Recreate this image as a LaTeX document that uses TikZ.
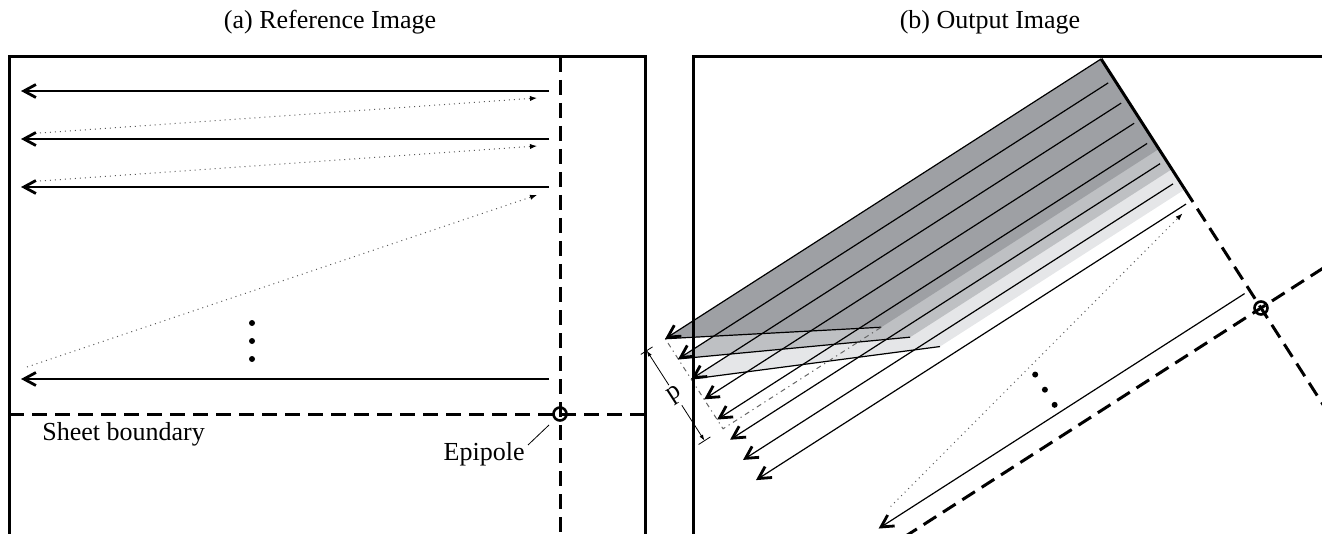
\documentclass[tikz,border=0pt]{standalone}
\usepackage{fontspec}
\setmainfont{Liberation Serif}
\usetikzlibrary{arrows.meta}
\definecolor{sheetdark}{RGB}{158,160,164}
\definecolor{sheetmid}{RGB}{190,192,195}
\definecolor{sheetlight}{RGB}{229,230,232}
\begin{document}
\begin{tikzpicture}[x=0.5pt,y=-0.5pt,
  frame/.style={line width=1.5pt},
  bound/.style={line width=1.5pt,dash pattern=on 7.5pt off 4pt},
  ray/.style={line width=0.6pt,-{Straight Barb[length=6pt,width=6.5pt,line width=1.4pt]}},
  back/.style={gray!70!black,line width=0.5pt,dotted,-{Latex[length=3.5pt,width=2.6pt,color=black]}},
  lbl/.style={font=\fontsize{13}{15}\selectfont,inner sep=0pt},
  ttl/.style={font=\fontsize{13}{15}\selectfont,inner sep=0pt,anchor=base},
  dotm/.style={circle,fill=black,inner sep=0pt,minimum size=3pt},
  epi/.style={circle,draw,line width=1.3pt,inner sep=0pt,minimum size=6.5pt},
  edge/.style={line width=0.6pt},
  proj/.style={gray!80!black,line width=0.5pt,dash pattern=on 0.6pt off 2pt on 2.5pt off 2pt},
  dim/.style={line width=0.4pt,{Latex[length=3pt,width=2pt]}-{Latex[length=3pt,width=2pt]}},
]
\useasboundingbox (0,0) rectangle (1322,534);

% titles
\node[ttl] (ta) at (330,29) {(a) Reference Image};
\node[ttl] (tb) at (990,29) {(b) Output Image};

% ---------------- panel (a) ----------------
\draw[bound] (560,57) -- (560,534);
\draw[bound] (9,414) -- (645,414);
\node[epi] (epA) at (560,414) {};

\foreach \i/\y in {1/91,2/139,3/187,4/379}{
  \coordinate (as\i) at (549,\y);
  \coordinate (at\i) at (21,\y);
  \draw[ray] (as\i) -- (at\i);
}
\coordinate (bl1) at (40,133);  \coordinate (br1) at (537,98);
\coordinate (bl2) at (40,181);  \coordinate (br2) at (537,146);
\coordinate (bl3) at (27,367);  \coordinate (br3) at (537,195);
\foreach \i in {1,2,3}{\draw[back] (bl\i) -- (br\i);}

\node[dotm] (ad1) at (252,323) {};
\node[dotm] (ad2) at (252,341) {};
\node[dotm] (ad3) at (252,359) {};

\node[lbl,anchor=base west] (sb) at (42,440) {Sheet boundary};
\node[lbl,anchor=base east] (ep) at (525,460) {Epipole};
\coordinate (lead) at (528,445);
\coordinate (leadend) at (549,425);
\draw[line width=0.4pt] (lead) -- (leadend);

% ---------------- panel (b) ----------------
\begin{scope}
\clip (600,57) rectangle (1322,534);
\begin{scope}[shift={(1261,308)},rotate=32.7,y=0.5pt]
  % sheets
  \fill[sheetlight] (0,248) -- (-518,248) -- (-291,141) -- (0,141) -- cycle;
  \fill[sheetmid]   (0,272) -- (-518,272) -- (-311,165) -- (0,165) -- cycle;
  \fill[sheetdark]  (0,296) -- (-518,296) -- (-330,189) -- (0,189) -- cycle;
  \draw[edge] (-518,248) -- (-291,141);
  \draw[edge] (-518,272) -- (-311,165);
  \draw[edge] (-518,296) -- (-330,189);
  % projection lines
  \coordinate (pc) at (-518,189);
  \draw[proj] (-518,296) -- (pc) -- (-330,189);
  % rays
  \foreach \i/\y/\x in {1/296/0,2/272/-7,3/248/-7,4/224/-7,5/200/-7,6/176/-7,7/152/-7,8/128/-7}{
    \coordinate (bs\i) at (\x,\y);
    \coordinate (bt\i) at (-518,\y);
    \draw[ray] (bs\i) -- (bt\i);
  }
  \coordinate (bs9) at (-6,21);
  \coordinate (bt9) at (-441,21);
  \draw[ray] (bs9) -- (bt9);
  \coordinate (bb1) at (-419,33);
  \coordinate (bb2) at (-15,122);
  \draw[back] (bb1) -- (bb2);
  \node[dotm] (bd1) at (-226,66) {};
  \node[dotm] (bd2) at (-226,48) {};
  \node[dotm] (bd3) at (-226,30) {};
  % boundaries
  \draw[line width=1.5pt] (0,296) -- (0,141);
  \draw[bound] (0,141) -- (0,-400);
  \draw[bound] (-700,0) -- (300,0);
  \node[epi] (epB) at (0,0) {};
  % dimension p
  \coordinate (pt) at (-540,296);
  \coordinate (pb) at (-540,189);
  \draw[line width=0.4pt] (-547,296) -- (-533,296);
  \draw[line width=0.4pt] (-547,189) -- (-533,189);
  \draw[dim] (pt) -- (pb);
  \node[lbl,fill=white,inner sep=1.5pt,rotate=32.7] (plab) at (-540,243) {p};
\end{scope}
\end{scope}

% frames drawn on top
\draw[frame] (9,534) -- (9,57) -- (645,57) -- (645,534);
\draw[frame] (693,534) -- (693,57) -- (1322,57);
\end{tikzpicture}
\end{document}
